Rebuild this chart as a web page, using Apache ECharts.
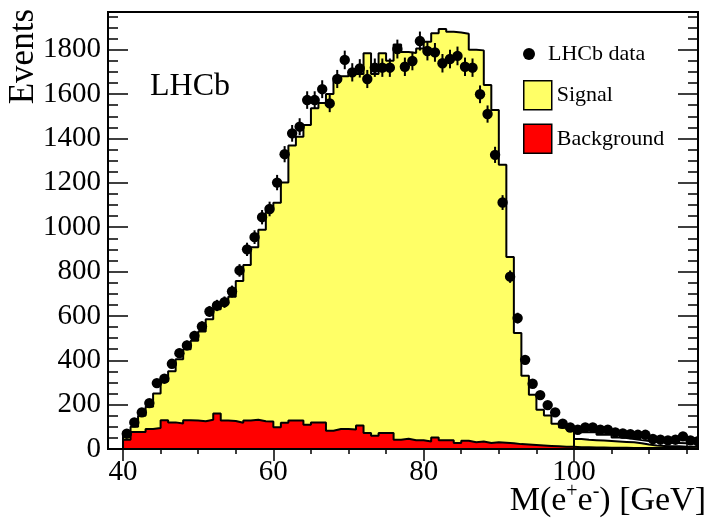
<!DOCTYPE html>
<html>
<head>
<meta charset="utf-8">
<script src="https://cdn.jsdelivr.net/npm/echarts@6/dist/echarts.min.js"></script>
<style>html,body{margin:0;padding:0;background:#fff}#c{width:709px;height:525px}</style>
</head>
<body>
<div id="c"></div>
<script>
// Bin centres (GeV), 1 GeV bins
const binCenters = [40.5,41.5,42.5,43.5,44.5,45.5,46.5,47.5,48.5,49.5,50.5,51.5,52.5,53.5,54.5,55.5,56.5,57.5,58.5,59.5,
  60.5,61.5,62.5,63.5,64.5,65.5,66.5,67.5,68.5,69.5,70.5,71.5,72.5,73.5,74.5,75.5,76.5,77.5,78.5,79.5,
  80.5,81.5,82.5,83.5,84.5,85.5,86.5,87.5,88.5,89.5,90.5,91.5,92.5,93.5,94.5,95.5,96.5,97.5,98.5,99.5,
  100.5,101.5,102.5,103.5,104.5,105.5,106.5,107.5,108.5,109.5,110.5,111.5,112.5,113.5,114.5,115.5,116.5];
// LHCb data (events per bin)
const dataCounts = [69,120,165,207,297,317,384,432,467,510,552,620,647,662,710,805,900,955,1045,1082,
  1201,1329,1423,1453,1573,1573,1622,1558,1668,1754,1698,1716,1668,1719,1719,1719,1803,1723,1749,1839,
  1794,1788,1739,1758,1772,1723,1719,1599,1510,1326,1111,777,590,402,294,243,198,165,114,97,
  87,97,97,87,87,75,70,67,64,64,45,42,39,42,57,39,35];
// Signal + background stack (top of yellow)
const totalFit = [75,100,150,190,250,305,350,405,450,488,530,585,630,655,686,757,830,910,988,1090,
  1110,1201,1368,1408,1461,1536,1560,1600,1660,1680,1690,1690,1784,1690,1784,1750,1824,1790,1785,1806,
  1836,1874,1893,1881,1878,1872,1800,1797,1641,1528,1281,865,523,330,245,177,151,114,97,87,
  45,42,40,38,36,34,32,30,26,20,16,14,12,12,10,10,10];
// Background
const background = [42,77,77,90,95,130,120,115,130,128,125,132,160,128,126,118,128,132,125,124,
  98,118,128,128,109,120,120,82,90,90,88,106,72,60,72,72,42,46,39,39,
  34,52,39,39,27,37,30,34,27,30,28,26,22,20,18,16,14,12,10,10,
  8,8,7,7,6,6,6,5,5,5,5,4,4,4,4,3,3];
// Outline of the high-mass component (bins from 100 GeV)
const tailCenters = [100.5,101.5,102.5,103.5,104.5,105.5,106.5,107.5,108.5,109.5,110.5,111.5,112.5,113.5,114.5,115.5,116.5];
const tailOutline = [75,75,75,64,64,52,50,45,40,36,33,30,28,27,26,25,24];

const xMajor = [40,60,80,100];
const xMinor = [45,50,55,65,70,75,85,90,95,105,110,115];
const yMajor = [0,200,400,600,800,1000,1200,1400,1600,1800];
const yMinor = [50,100,150,250,300,350,450,500,550,650,700,750,850,900,950,1050,1100,1150,1250,1300,1350,1450,1500,1550,1650,1700,1750,1850,1900,1950];

const FONT = '"Liberation Serif", "Times New Roman", serif';
const HALF = 0.5; // half bin width

function stepPoints(centers, vals, startFromZero) {
  const pts = [];
  if (startFromZero) pts.push([centers[0] - HALF, 0]);
  for (let i = 0; i < centers.length; i++) {
    pts.push([centers[i] - HALF, vals[i]]);
    pts.push([centers[i] + HALF, vals[i]]);
  }
  pts.push([centers[centers.length - 1] + HALF, 0]);
  return pts;
}

const XMIN = 38, XMAX = 116.5, YMIN = 0, YMAX = 1970;
const gridRect = {left: 108, right: 11, top: 12, bottom: 76};
const plain = v => String(v);

function xAx(gridIndex, position, ticks, len, labels) {
  return {
    type: 'value', gridIndex, position, min: XMIN, max: XMAX,
    axisLine: {show: false}, splitLine: {show: false},
    axisTick: {show: true, inside: true, length: len, customValues: ticks, lineStyle: {color: '#000', width: 1.5}},
    axisLabel: labels ? {show: true, customValues: labels, formatter: plain, fontSize: 29, fontFamily: FONT, color: '#000', margin: 9} : {show: false}
  };
}
function yAx(gridIndex, position, ticks, len, labels) {
  return {
    type: 'value', gridIndex, position, min: YMIN, max: YMAX,
    axisLine: {show: false}, splitLine: {show: false},
    axisTick: {show: true, inside: true, length: len, customValues: ticks, lineStyle: {color: '#000', width: 1.5}},
    axisLabel: labels ? {show: true, customValues: labels, formatter: plain, fontSize: 29, fontFamily: FONT, color: '#000', margin: 7} : {show: false}
  };
}

const chart = echarts.init(document.getElementById('c'), null, {renderer: 'canvas'});
chart.setOption({
  animation: false,
  backgroundColor: '#fff',
  grid: [
    Object.assign({show: true, borderColor: '#000', borderWidth: 2, backgroundColor: 'transparent', z: 10}, gridRect),
    Object.assign({show: false}, gridRect)
  ],
  xAxis: [
    xAx(0, 'bottom', xMajor, 12, xMajor),
    xAx(0, 'top', xMajor, 12, null),
    xAx(1, 'bottom', xMinor, 5, null),
    xAx(1, 'top', xMinor, 5, null)
  ],
  yAxis: [
    yAx(0, 'left', yMajor, 20, yMajor),
    yAx(0, 'right', yMajor, 20, null),
    yAx(1, 'left', yMinor, 10, null),
    yAx(1, 'right', yMinor, 10, null)
  ],
  legend: [
    {
      data: [{name: 'LHCb data', icon: 'circle', itemStyle: {color: '#000'}}],
      left: 523, top: 43, padding: 0, itemWidth: 28, itemHeight: 12, selectedMode: false,
      textStyle: {fontSize: 22, fontFamily: FONT, color: '#000'}
    },
    {
      data: [
        {name: 'Signal', icon: 'rect', itemStyle: {color: '#ffff66', borderColor: '#000', borderWidth: 1.5}},
        {name: 'Background', icon: 'rect', itemStyle: {color: '#ff0000', borderColor: '#000', borderWidth: 1.5}}
      ],
      orient: 'vertical', left: 523, top: 80, padding: 0, itemWidth: 28, itemHeight: 29, itemGap: 13, selectedMode: false,
      textStyle: {fontSize: 22, fontFamily: FONT, color: '#000'}
    }
  ],
  graphic: [
    {type: 'text', x: 24, y: 9, rotation: Math.PI / 2,
      style: {text: 'Events', font: '35px ' + FONT, align: 'right', verticalAlign: 'middle', fill: '#000'}},
    {type: 'text', x: 706, y: 501,
      style: {
        text: '{n|M(e}{s|+}{n|e}{s|-}{n|) [GeV]}', align: 'right', verticalAlign: 'middle', fill: '#000',
        rich: {
          n: {fontSize: 34, fontFamily: FONT, color: '#000', lineHeight: 38},
          s: {fontSize: 20, fontFamily: FONT, color: '#000', verticalAlign: 'top', lineHeight: 38}
        }
      }},
    {type: 'text', x: 150, y: 87,
      style: {text: 'LHCb', font: '32px ' + FONT, align: 'left', verticalAlign: 'middle', fill: '#000'}}
  ],
  series: [
    {
      name: 'Signal', type: 'line', xAxisIndex: 0, yAxisIndex: 0, z: 2,
      data: stepPoints(binCenters, totalFit, true), showSymbol: false, symbol: 'none',
      lineStyle: {color: '#000', width: 2}, areaStyle: {color: '#ffff66', opacity: 1, origin: 0},
      itemStyle: {color: '#ffff66'}, clip: true
    },
    {
      name: 'Background', type: 'line', xAxisIndex: 0, yAxisIndex: 0, z: 3,
      data: stepPoints(binCenters, background, true), showSymbol: false, symbol: 'none',
      lineStyle: {color: '#000', width: 2}, areaStyle: {color: '#ff0000', opacity: 1, origin: 0},
      itemStyle: {color: '#ff0000'}, clip: true
    },
    {
      name: 'tail', type: 'line', xAxisIndex: 0, yAxisIndex: 0, z: 4,
      data: stepPoints(tailCenters, tailOutline, true), showSymbol: false, symbol: 'none',
      lineStyle: {color: '#000', width: 2}, clip: true
    },
    {
      name: 'LHCb data', type: 'custom', xAxisIndex: 0, yAxisIndex: 0, z: 5, clip: true,
      itemStyle: {color: '#000'},
      data: binCenters.map((c, i) => [c, dataCounts[i]]),
      renderItem: function (params, api) {
        const x = api.value(0), y = api.value(1);
        const p = api.coord([x, y]);
        const e = Math.sqrt(y);
        const t = api.coord([x, y + e]);
        const b = api.coord([x, y - e]);
        return {
          type: 'group',
          children: [
            {type: 'line', shape: {x1: p[0], y1: t[1], x2: p[0], y2: b[1]}, style: {stroke: '#000', lineWidth: 2}},
            {type: 'circle', shape: {cx: p[0], cy: p[1], r: 5.2}, style: {fill: '#000'}}
          ]
        };
      }
    }
  ]
});
</script>
</body>
</html>
